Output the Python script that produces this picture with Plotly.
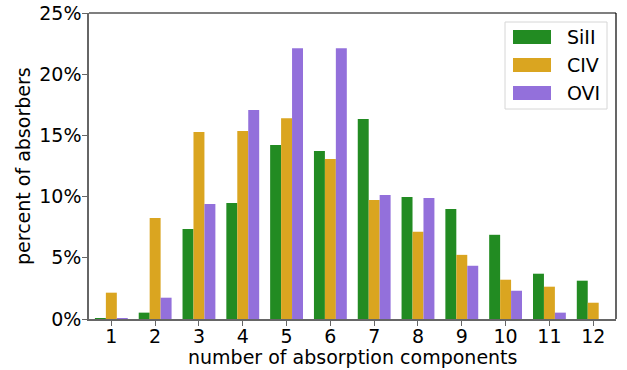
import plotly.graph_objects as go

components = list(range(1, 13))
siII = [0.05, 0.52, 7.36, 9.48, 14.21, 13.72, 16.33, 9.97, 8.99, 6.88, 3.70, 3.13]
civ = [2.15, 8.26, 15.27, 15.35, 16.41, 13.07, 9.73, 7.12, 5.24, 3.21, 2.64, 1.33]
ovi = [0.05, 1.74, 9.40, 17.07, 22.12, 22.12, 10.14, 9.89, 4.35, 2.31, 0.52, 0.0]
series_names = ["SiII", "CIV", "OVI"]
colors = ["forestgreen", "goldenrod", "mediumpurple"]
y_ticks = [0, 5, 10, 15, 20, 25]
y_ticklabels = ["0%", "5%", "10%", "15%", "20%", "25%"]
x_title = "number of absorption components"
y_title = "percent of absorbers"

font = "DejaVu Sans"
FS = 19
W, H = 627, 370
L, R, T, B = 89, 11, 13, 51
pw, ph = W - L - R, H - T - B


def px(x):
    return (x - L) / pw


def py(y):
    return (H - B - y) / ph


fig = go.Figure()
for name, vals, c in zip(series_names, [siII, civ, ovi], colors):
    fig.add_trace(go.Bar(x=components, y=vals, name=name, marker_color=c,
                         marker_line_width=0, showlegend=False))

fig.update_layout(
    width=W, height=H,
    margin=dict(l=L, r=R, t=T, b=B, autoexpand=False),
    paper_bgcolor="white", plot_bgcolor="white",
    barmode="group", bargap=0.25, bargroupgap=0,
    font=dict(family=font, size=FS, color="black"),
    showlegend=False,
)
fig.update_xaxes(
    range=[0.49, 12.52], tickmode="array", tickvals=components,
    ticktext=[str(c) for c in components],
    showgrid=False, zeroline=False, automargin=False,
    showline=True, linecolor="#666666", linewidth=1.5,
    ticks="outside", ticklen=5, tickcolor="#666666",
    ticklabelstandoff=-6,
    tickfont=dict(size=FS),
)
fig.update_yaxes(
    range=[0, 25], tickmode="array", tickvals=y_ticks, ticktext=y_ticklabels,
    showgrid=False, zeroline=False, automargin=False,
    showline=True, linecolor="#666666", linewidth=1.5,
    ticks="outside", ticklen=5, tickcolor="#666666",
    ticklabelstandoff=-3,
    tickfont=dict(size=FS),
)
# axis titles
fig.add_annotation(xref="paper", yref="paper", x=0.5, y=py(357), text=x_title,
                   showarrow=False, xanchor="center", yanchor="middle",
                   font=dict(size=FS, family=font))
fig.add_annotation(xref="paper", yref="paper", x=px(23), y=0.5, text=y_title,
                   showarrow=False, xanchor="center", yanchor="middle",
                   textangle=-90, font=dict(size=FS, family=font))
# top and right black spines
fig.add_shape(type="line", xref="paper", yref="paper", x0=0, x1=1, y0=1, y1=1,
              line=dict(color="black", width=1.2))
fig.add_shape(type="line", xref="paper", yref="paper", x0=1, x1=1, y0=0, y1=1,
              line=dict(color="black", width=1.2))

# legend box
fig.add_shape(type="rect", xref="paper", yref="paper",
              x0=px(505), x1=px(607), y0=py(109), y1=py(22),
              line=dict(color="#d6d6d6", width=1), fillcolor="white", opacity=1)
for i, (name, c) in enumerate(zip(series_names, colors)):
    cy = 37 + 28 * i
    fig.add_shape(type="rect", xref="paper", yref="paper",
                  x0=px(513), x1=px(551), y0=py(cy + 7), y1=py(cy - 7),
                  line=dict(width=0), fillcolor=c)
    fig.add_annotation(xref="paper", yref="paper", x=px(565), y=py(cy),
                       text=name, showarrow=False, xanchor="left",
                       yanchor="middle", font=dict(size=FS, family=font))

fig.write_html("out.html")
